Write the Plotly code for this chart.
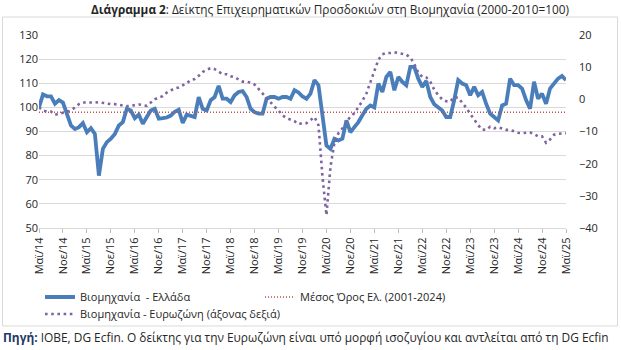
import plotly.graph_objects as go
import pandas as pd

months = [p.strftime("%Y-%m") for p in pd.period_range("2014-05", "2025-05", freq="M")]

tick_labels = ["Μαϊ/14", "Νοε/14", "Μαϊ/15", "Νοε/15", "Μαϊ/16", "Νοε/16", "Μαϊ/17", "Νοε/17",
               "Μαϊ/18", "Νοε/18", "Μαϊ/19", "Νοε/19", "Μαϊ/20", "Νοε/20", "Μαϊ/21", "Νοε/21",
               "Μαϊ/22", "Νοε/22", "Μαϊ/23", "Νοε/23", "Μαϊ/24", "Νοε/24", "Μαϊ/25"]

greece = [100, 105.4, 104.6, 104.6, 101.5, 103, 102, 97.4, 92.5, 91, 91.8, 93.5, 89.7, 91.4, 89,
          71.7, 82.8, 85.6, 87, 89, 92.5, 93.9, 99.4, 98.7, 95.5, 97, 93.2, 96, 98.7, 99.4,
          95.3, 95.5, 95.8, 96.6, 98.2, 99, 93.5, 97, 96.4, 96, 104.3, 99.4, 98.7, 103, 104.3,
          108.9, 103.6, 103.6, 102.2, 105, 106.4, 106.7, 104.3, 99.4, 98, 97.4, 97.4, 103.6, 104.3, 104.3,
          103.6, 104.3, 104.3, 103.6, 107.1, 106.2, 104.5, 103.6, 105.7, 111.3, 109.2, 96.7, 84.2, 82.8, 87,
          86.3, 87, 94.6, 89.7, 91.8, 93.9, 96.7, 99.4, 100.8, 100, 109.9, 106.4, 112.6, 114.7, 107.1,
          112.6, 110.6, 109.2, 116.8, 116.8, 111.9, 108.5, 111, 104.3, 101.3, 99.8, 98.7, 96, 96, 103,
          111.3, 109.9, 109.2, 105, 108.5, 105, 106.4, 101.5, 97.4, 96, 94.6, 100.8, 101.5, 111.9, 109.2,
          109.2, 107.8, 103, 99.4, 110.6, 103.6, 105.7, 101.5, 107.8, 109.9, 111.9, 113, 111.3]

eurozone = [-2.5, -3.5, -3.8, -3.8, -4.8, -4.5, -4, -3.8, -3.5, -2.5, -1.5, -1, -1, -1.2, -1,
            -0.9, -1.1, -1.4, -1.5, -1.5, -1.7, -2.0, -2.1, -2.0, -1.9, -1.6, -1.8, -2.0, -1.0, 0,
            0.6, 1, 2.1, 2.8, 3.4, 3.7, 4.3, 5, 6, 6.3, 7.3, 8.5, 9.2, 9.7, 9.4,
            8.7, 7.8, 7.8, 7.2, 6.9, 6.3, 5.5, 5.5, 5.2, 4.6, 3.2, 1.8, 0.3, -1.2, -2.3,
            -3.5, -5.0, -5.8, -6.2, -6.8, -7.7, -7.4, -7.4, -6.5, -5.5, -8, -24, -36, -21, -13.5,
            -10.5, -9, -7, -5.3, -4.3, -2.5, -0.5, 1.8, 5.5, 8.8, 12.3, 14, 14.4, 14.4, 14.6,
            14.4, 14.2, 13.9, 13, 11, 8.2, 7, 6.8, 5.5, 3.0, 1.3, 0, -0.6, -0.7, 0.7,
            0.5, -1, -2.6, -4.5, -6.3, -8, -9.4, -9.5, -8.5, -9, -8.7, -9.2, -9.5, -9.5, -10,
            -10.4, -10.5, -10.5, -10.3, -10.8, -11.5, -11.5, -13.5, -12.5, -11, -10.7, -10.5, -10.5]

greece_mean = 98.0

FONT = "Open Sans"
DARK = "#262626"

# plot-area geometry in pixels, used for paper-coordinate conversions
L, R, T, B = 39, 55, 35, 122
pw = 621 - L - R
ph = 350 - T - B
def px_x(v):
    return (v - L) / pw
def px_y(v):
    return (350 - B - v) / ph

fig = go.Figure()
fig.add_trace(go.Scatter(
    x=months, y=greece, mode="lines", name="Βιομηχανία  - Ελλάδα",
    line=dict(color="#4A7EBB", width=3.8), yaxis="y", legend="legend"))
fig.add_trace(go.Scatter(
    x=months, y=[greece_mean] * len(months), mode="lines",
    name="Μέσος Όρος Ελ. (2001-2024)",
    line=dict(color="#C0504D", width=1.5, dash="1px,2px"), yaxis="y", legend="legend3"))
fig.add_trace(go.Scatter(
    x=months, y=eurozone, mode="lines", name="Βιομηχανία - Ευρωζώνη (άξονας δεξιά)",
    line=dict(color="#7F659F", width=2.6, dash="2.6px,3.6px"), yaxis="y2", legend="legend2"))

legend_common = dict(orientation="h", xanchor="left", yanchor="middle",
                     font=dict(family=FONT, size=11, color=DARK),
                     itemwidth=30, bgcolor="rgba(0,0,0,0)")

fig.update_layout(
    width=621, height=350,
    margin=dict(l=L, r=R, t=T, b=B),
    paper_bgcolor="white", plot_bgcolor="white",
    font=dict(family=FONT, size=11, color=DARK),
    showlegend=True,
    legend=dict(x=px_x(40), y=px_y(297), **legend_common),
    legend3=dict(x=px_x(260), y=px_y(297), **legend_common),
    legend2=dict(x=px_x(40), y=px_y(314), **legend_common),
    xaxis=dict(type="category", range=[0, len(months) - 1],
               tickmode="array", tickvals=months[::6], ticktext=tick_labels,
               tickangle=-90, ticks="outside", ticklen=4, tickcolor="#BFBFBF",
               showgrid=False, showline=True, linecolor="#D9D9D9", linewidth=1,
               tickfont=dict(family=FONT, size=11, color=DARK), zeroline=False),
    yaxis=dict(range=[50, 130], dtick=10, showgrid=True, gridcolor="#D9D9D9", gridwidth=1,
               zeroline=False, showline=False, ticks="",
               tickfont=dict(family=FONT, size=11, color=DARK)),
    yaxis2=dict(range=[-40, 20], dtick=10, overlaying="y", side="right", showgrid=False,
                zeroline=False, showline=False, ticks="", ticklabelstandoff=12,
                tickfont=dict(family=FONT, size=11, color=DARK)),
)

# chart border
fig.add_shape(type="rect", xref="paper", yref="paper",
              x0=px_x(2.5), x1=px_x(617.5), y0=px_y(326), y1=px_y(17),
              line=dict(color="#D9D9D9", width=1), fillcolor="rgba(0,0,0,0)", layer="below")

fig.add_annotation(
    xref="paper", yref="paper", x=px_x(330), y=px_y(9), xanchor="center", yanchor="middle",
    text="<b>Διάγραμμα 2</b>: Δείκτης Επιχειρηματικών Προσδοκιών στη Βιομηχανία (2000-2010=100)",
    showarrow=False, font=dict(family=FONT, size=11.8, color=DARK))

fig.add_annotation(
    xref="paper", yref="paper", x=px_x(1), y=px_y(337), xanchor="left", yanchor="middle",
    text="<b><span style='color:#1F3864'>Πηγή:</span></b> IOBE, DG Ecfin. Ο δείκτης για την Ευρωζώνη είναι υπό μορφή ισοζυγίου και αντλείται από τη DG Ecfin",
    showarrow=False, font=dict(family=FONT, size=11.9, color=DARK))

fig.write_html("out.html")
